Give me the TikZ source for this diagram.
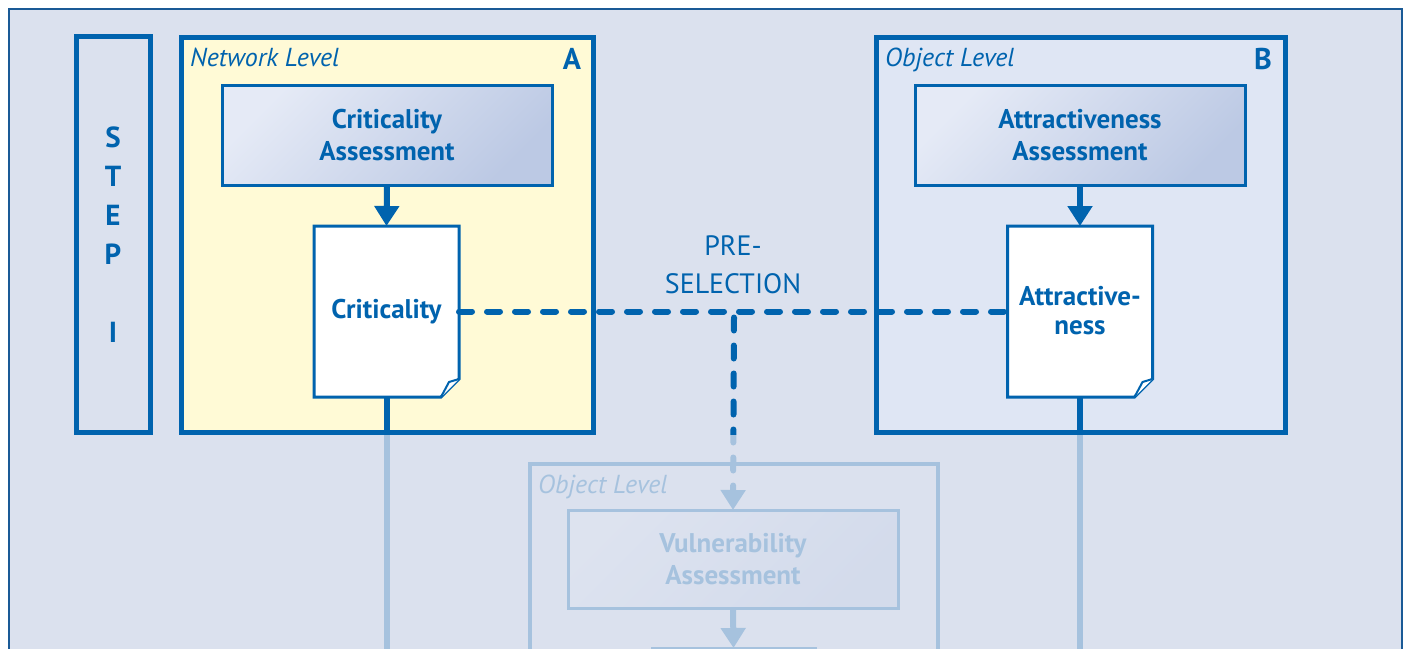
\documentclass[tikz,border=0pt]{standalone}
\usepackage{fontspec}
\setmainfont{PT Sans}
\usetikzlibrary{arrows.meta}
\definecolor{dblue}{RGB}{0,99,174}
\definecolor{bgc}{RGB}{219,225,238}
\definecolor{framec}{RGB}{26,90,150}
\definecolor{ylw}{RGB}{255,250,214}
\definecolor{lbl}{RGB}{223,230,244}
\definecolor{gl}{RGB}{229,234,246}
\definecolor{gd}{RGB}{188,201,228}
\tikzset{
  panel/.style={draw=dblue, line width=5pt, rectangle, inner sep=0pt, outer sep=0pt},
  assess/.style={draw=dblue, line width=3pt, rectangle, inner sep=0pt, outer sep=0pt,
     top color=gl, bottom color=gd, shading angle=45,
     minimum width=330pt, minimum height=100pt, align=center, text=dblue,
     font=\fontsize{27}{32}\selectfont\bfseries},
  docnode/.style={rectangle, inner sep=0pt, outer sep=0pt, minimum width=145pt,
     minimum height=171pt, align=center, text=dblue,
     font=\fontsize{27}{29}\selectfont\bfseries},
  docline/.style={draw=dblue, line width=3pt, fill=white, line join=miter},
  flap/.style={draw=dblue, line width=2pt, fill=white, line join=round},
  conn/.style={dblue, line width=6pt},
  arr/.style={dblue, line width=6pt, -{Triangle[width=24pt,length=20pt]}},
  dashline/.style={dblue, line width=6pt, line cap=round, dash pattern=on 13pt off 15pt},
  levellabel/.style={anchor=base west, text=dblue, inner sep=0pt, font=\fontsize{26}{28}\selectfont\itshape},
  letterlabel/.style={text=dblue, inner sep=0pt, font=\fontsize{30}{32}\selectfont\bfseries},
}
\newcommand{\docshape}[1]{%
  \draw[docline] (#1.north west) -- (#1.north east) -- ([shift={(0,-18)}]#1.south east)
     -- ([shift={(-18,0)}]#1.south east) -- (#1.south west) -- cycle;
  \draw[flap] ([shift={(0,-18)}]#1.south east) -- ([shift={(-10,-15)}]#1.south east)
     -- ([shift={(-18,0)}]#1.south east);
}
\begin{document}
\begin{tikzpicture}[x=1pt,y=-1pt]
\useasboundingbox (0,0) rectangle (1408,648);
\fill[white] (0,0) rectangle (1408,648);
\draw[framec, line width=2.5pt, fill=bgc] (9,9) rectangle (1402,720);

% STEP column
\node[panel, minimum width=74pt, minimum height=396pt, align=center, text=dblue,
      font=\fontsize{29}{39}\selectfont\bfseries] (step) at (113,234.5)
      {S\\T\\E\\P\\[39pt]I};

% Panel A
\node[panel, fill=ylw, minimum width=412pt, minimum height=395pt] (A) at (387,234.5) {};
\node[levellabel] (Alab) at (190,66) {Network Level};
\node[letterlabel] (Aletter) at (572,59) {A};
\node[assess] (critA) at (387,135) {Criticality\\Assessment};
\node[docnode] (docA) at (386.5,311.5) {};
\docshape{docA}
\node[docnode] (docAtext) at (docA) {Criticality};

% Panel B
\node[panel, fill=lbl, minimum width=409pt, minimum height=395pt] (B) at (1080.5,234.5) {};
\node[levellabel] (Blab) at (885,66) {Object Level};
\node[letterlabel] (Bletter) at (1263,59) {B};
\node[assess] (attrB) at (1080,135) {Attractiveness\\Assessment};
\node[docnode] (docB) at (1080,311.5) {};
\docshape{docB}
\node[docnode] (docBtext) at ([yshift=1pt]docB) {Attractive-\\ness};

% lower (faded) part
\node[draw=dblue, line width=4pt, rectangle, minimum width=408pt, minimum height=236pt,
      inner sep=0pt, outer sep=0pt] (C) at (734,582) {};
\node[levellabel] (Clab) at (538,493) {Object Level};
\node[assess, line width=3pt, minimum height=98pt] (vuln) at (733,559) {Vulnerability\\Assessment};
\node[draw=dblue, line width=3pt, rectangle, minimum width=163pt, minimum height=60pt,
      inner sep=0pt, outer sep=0pt] (next) at (733.5,678) {};

% connectors
\draw[arr] (critA.south) -- (docA.north);
\draw[arr] (attrB.south) -- (docB.north);
\coordinate (endA) at (386.5,660);
\coordinate (endB) at (1080,660);
\draw[conn] (docA.south) -- (endA);
\draw[conn] (docB.south) -- (endB);
\draw[dashline] (docA.east) -- (docB.west);
\coordinate (j) at (734,311.5);
\draw[dashline, -{Triangle[width=24pt,length=20pt]}] ([yshift=-6pt]j) -- (vuln.north);
\draw[arr] (vuln.south) -- (next.north);

\node[text=dblue, align=center, font=\fontsize{28}{38}\selectfont] (presel) at (733,265) {PRE-\\SELECTION};

% fade overlay for the lower part
\fill[bgc, opacity=0.76] (10.5,435) rectangle (1400.5,740);
\end{tikzpicture}
\end{document}
